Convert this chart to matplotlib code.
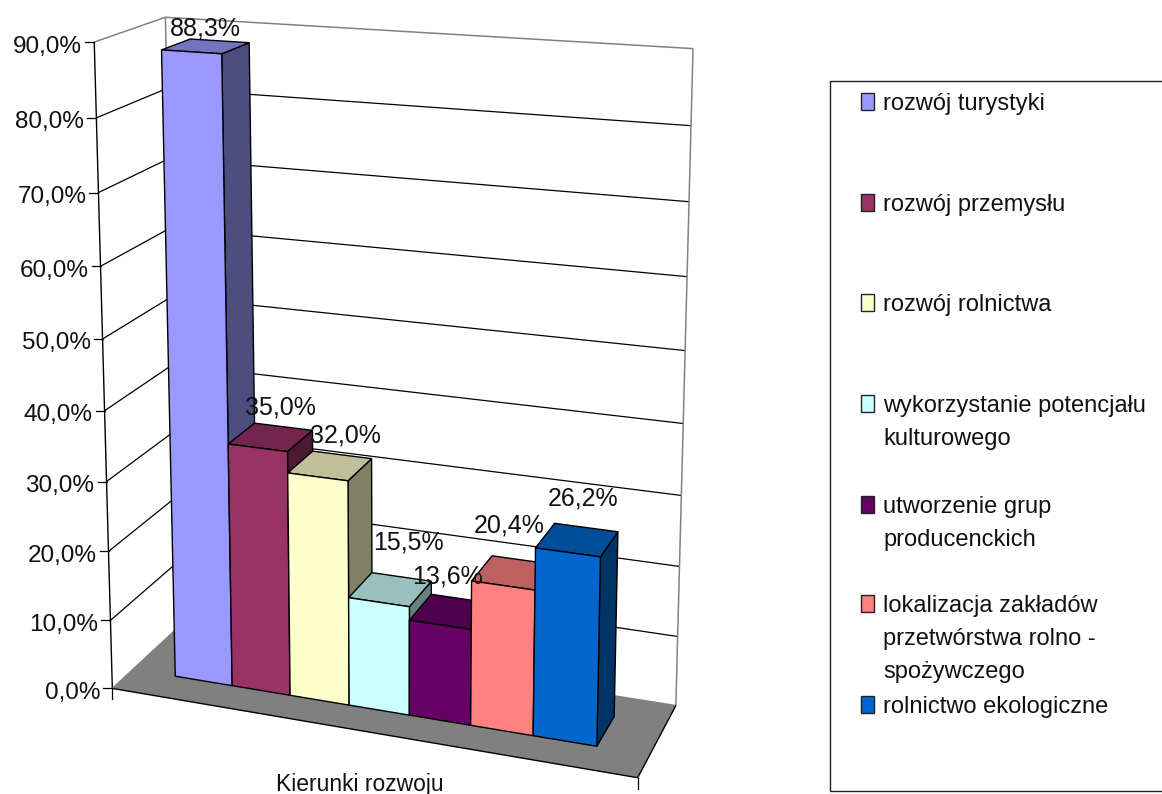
import numpy as np
import matplotlib
matplotlib.use("Agg")
import matplotlib.pyplot as plt
from matplotlib.patches import Polygon, Rectangle

plt.rcParams['font.family'] = ['Liberation Sans', 'DejaVu Sans']

# data
series = ["rozwój turystyki", "rozwój przemysłu", "rozwój rolnictwa",
          "wykorzystanie potencjału\nkulturowego", "utworzenie grup\nproducenckich",
          "lokalizacja zakładów\nprzetwórstwa rolno -\nspożywczego", "rolnictwo ekologiczne"]
values = [88.3, 35.0, 32.0, 15.5, 13.6, 20.4, 26.2]
value_labels = ["88,3%", "35,0%", "32,0%", "15,5%", "13,6%", "20,4%", "26,2%"]
colors = ["#9999FF", "#993366", "#FFFFCC", "#CCFFFF", "#660066", "#FF8080", "#0066CC"]
yticks = [0, 10, 20, 30, 40, 50, 60, 70, 80, 90]
ytick_labels = ["0,0%", "10,0%", "20,0%", "30,0%", "40,0%", "50,0%", "60,0%", "70,0%", "80,0%", "90,0%"]
xlabel = "Kierunki rozwoju"

# bar extents inside the box (x and depth are 0..1)
bar_x0, bar_x1 = 0.088, 0.905
bar_z0, bar_z1 = 0.30, 0.72
w = (bar_x1 - bar_x0) / len(values)

# camera: matched points (x, value, depth) -> picture pixel
calib = [
    ((0, 0, 0), (112, 687)), ((0, 90, 0), (94, 43)), ((1, 0, 0), (634, 777)),
    ((0, 0, 1), (178, 627)), ((0, 90, 1), (166, 18)), ((1, 0, 1), (674, 704)),
    ((1, 90, 1), (691, 47)), ((0, 50, 0), (102, 338)), ((0, 20, 0), (108, 552)),
    ((bar_x0, 0, bar_z0), (175, 676)), ((bar_x1, 0, bar_z0), (598, 746)),
    ((bar_x1, 0, bar_z1), (616, 718)), ((bar_x1, 26.2, bar_z0), (602, 558)),
    ((bar_x1, 26.2, bar_z1), (619, 533)), ((bar_x0, 88.3, bar_z0), (162, 50)),
    ((bar_x0, 88.3, bar_z1), (190, 39)),
    ((bar_x0 + w, 88.3, bar_z0), (222, 53)), ((bar_x0 + 3 * w, 15.5, bar_z0), (349, 598)),
    ((bar_x0 + 5 * w, 20.4, bar_z0), (473, 582)), ((bar_x0 + 6 * w, 26.2, bar_z0), (537, 548)),
]


def fit_camera(points):
    rows, rhs = [], []
    for (x, y, z), (u, v) in points:
        rows.append([x, y, z, 1, 0, 0, 0, 0, -u * x, -u * y, -u * z])
        rhs.append(u)
        rows.append([0, 0, 0, 0, x, y, z, 1, -v * x, -v * y, -v * z])
        rhs.append(v)
    p = np.linalg.lstsq(np.array(rows, float), np.array(rhs, float), rcond=None)[0]
    return np.append(p, 1).reshape(3, 4)


cam = fit_camera(calib)


def proj(x, y, z):
    u, v, s = cam @ np.array([x, y, z, 1.0])
    return u / s, v / s


def shade(color, k):
    rgb = np.array(matplotlib.colors.to_rgb(color))
    return tuple(rgb * k)


fig = plt.figure(figsize=(11.62, 7.94), dpi=100)
ax = fig.add_axes([0, 0, 1, 1])
ax.set_xlim(0, 1162)
ax.set_ylim(794, 0)
ax.axis('off')

# floor
floor = [proj(0, 0, 0), proj(1, 0, 0), proj(1, 0, 1), proj(0, 0, 1)]
ax.add_patch(Polygon(floor, closed=True, fc="#808080", ec="none", zorder=1))


def line(a, b, color="black", lw=0.9, z=2):
    ax.plot([a[0], b[0]], [a[1], b[1]], color=color, lw=lw, zorder=z, solid_capstyle='butt')


# walls
for t in yticks[1:-1]:
    line(proj(0, t, 0), proj(0, t, 1))
    line(proj(0, t, 1), proj(1, t, 1))
grey = "#808080"
line(proj(0, 90, 0), proj(0, 90, 1), grey, 1.1)
line(proj(0, 90, 1), proj(1, 90, 1), grey, 1.1)
line(proj(0, 0, 1), proj(0, 90, 1), grey, 1.1)
line(proj(1, 0, 1), proj(1, 90, 1), grey, 1.1)
line(proj(0, 0, 1), proj(1, 0, 1), grey, 1.1)

# axis, ticks
line(proj(0, 0, 0), proj(0, 90, 0), "black", 1.0, 3)
line(proj(0, 0, 0), proj(1, 0, 0), "black", 1.0, 3)
line(proj(1, 0, 0), proj(1, 0, 1), "black", 1.0, 3)
line(proj(0, 0, 0), proj(0, 0, 1), grey, 1.0, 3)
for t, lab in zip(yticks, ytick_labels):
    px, py = proj(0, t, 0)
    ax.plot([px - 9, px], [py, py], color="black", lw=0.9, zorder=3)
    ax.text(px - 12, py + 10.5, lab, ha='right', va='baseline', fontsize=17.5, color="#111111")

# little ticks below the front edge
fl = proj(0, 0, 0)
fr = proj(1, 0, 0)
ax.plot([fl[0], fl[0]], [fl[1], fl[1] + 11], color="black", lw=0.9, zorder=3)
ax.plot([fr[0], fr[0]], [fr[1], fr[1] + 11], color="black", lw=0.9, zorder=3)

# bars, left to right so each one covers the side of the previous one
for i, (val, col) in enumerate(zip(values, colors)):
    x0 = bar_x0 + i * w
    x1 = x0 + w
    side = [proj(x1, 0, bar_z0), proj(x1, 0, bar_z1), proj(x1, val, bar_z1), proj(x1, val, bar_z0)]
    top = [proj(x0, val, bar_z0), proj(x1, val, bar_z0), proj(x1, val, bar_z1), proj(x0, val, bar_z1)]
    front = [proj(x0, 0, bar_z0), proj(x1, 0, bar_z0), proj(x1, val, bar_z0), proj(x0, val, bar_z0)]
    z = 5 + i
    ax.add_patch(Polygon(side, closed=True, fc=shade(col, 0.5), ec="black", lw=1.0, zorder=z))
    ax.add_patch(Polygon(top, closed=True, fc=shade(col, 0.75), ec="black", lw=1.0, zorder=z))
    ax.add_patch(Polygon(front, closed=True, fc=col, ec="black", lw=1.0, zorder=z))

# value labels, nudged off the top face centre
label_dx = [0, 10, 15, 18, -3, -4, 6]
label_dy = [-18, -30, -30, -47, -35, -47, -41]
for i, (val, lab) in enumerate(zip(values, value_labels)):
    cx, cy = proj(bar_x0 + (i + 0.5) * w, val, (bar_z0 + bar_z1) / 2)
    ax.text(cx + label_dx[i], cy + label_dy[i], lab, ha='center', va='center',
            fontsize=18, color="#111111", zorder=20)

ax.text(360, 791, xlabel, ha='center', va='baseline', fontsize=16.5, color="#111111")

# legend
ax.add_patch(Rectangle((829.5, 80.5), 340, 710, fc="white", ec="#222222", lw=1.0, zorder=1))
legend_base = [110, 211, 311, 412, 513, 612, 713]
line_h = 33
for name, col, ly in zip(series, colors, legend_base):
    ax.add_patch(Rectangle((860.5, ly - 17.5), 13.5, 17, fc=col, ec="#222222", lw=1.0, zorder=3))
    for j, part in enumerate(name.split("\n")):
        ax.text(883, ly + j * line_h, part, ha='left', va='baseline', fontsize=17, color="#111111", zorder=3)

fig.savefig("out.png", dpi=100)
